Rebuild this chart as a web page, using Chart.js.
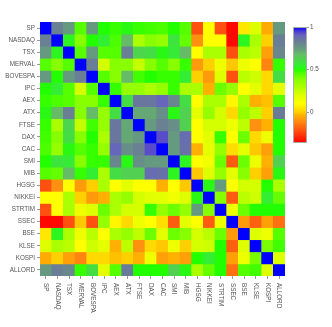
<!DOCTYPE html>
<html>
<head>
<meta charset="utf-8">
<script src="https://cdn.jsdelivr.net/npm/chart.js@4/dist/chart.umd.min.js"></script>
<style>
  html, body { margin: 0; padding: 0; background: #fff; }
  #wrap { width: 332px; height: 327px; }
</style>
</head>
<body>
<div id="wrap"><canvas id="corrChart"></canvas></div>
<script>
const indices = ["SP", "NASDAQ", "TSX", "MERVAL", "BOVESPA", "IPC", "AEX", "ATX", "FTSE", "DAX", "CAC",
  "SMI", "MIB", "HGSG", "NIKKEI", "STRTIM", "SSEC", "BSE", "KLSE", "KOSPI", "ALLORD"];

// correlation matrix, rows/cols in the order of `indices`
const corr = [
  [1, 0.82, 0.75, 0.45, 0.75, 0.5, 0.48, 0.52, 0.48, 0.47, 0.46, 0.5, 0.45, -0.22, 0.1, -0.22, -0.35, 0.05, 0.2, -0.05, 0.75],
  [0.82, 1, 0.53, 0.38, 0.5, 0.55, 0.46, 0.68, 0.3, 0.38, 0.35, 0.58, 0.43, -0.1, 0.1, 0.1, -0.35, 0.53, 0.3, 0.0, 0.83],
  [0.75, 0.53, 1, 0.45, 0.75, 0.45, 0.45, 0.83, 0.62, 0.6, 0.52, 0.56, 0.68, 0.1, 0.3, 0.3, -0.22, 0.3, 0.27, -0.07, 0.8],
  [0.45, 0.38, 0.45, 1, 0.83, 0.22, 0.38, 0.38, 0.25, 0.38, 0.45, 0.38, 0.48, -0.08, 0.0, 0.15, -0.01, 0.15, 0.1, -0.12, 0.48],
  [0.75, 0.5, 0.75, 0.83, 1, 0.45, 0.38, 0.68, 0.47, 0.5, 0.48, 0.48, 0.55, 0.0, -0.08, 0.2, -0.22, 0.27, 0.23, 0.02, 0.6],
  [0.5, 0.55, 0.45, 0.22, 0.45, 1, 0.48, 0.35, 0.35, 0.3, 0.35, 0.48, 0.3, 0.3, -0.04, 0.42, 0.35, 0.1, 0.18, 0.02, 0.18],
  [0.48, 0.46, 0.45, 0.38, 0.38, 0.48, 1, 0.6, 0.85, 0.85, 0.9, 0.8, 0.6, 0.1, 0.3, 0.3, 0.08, 0.3, -0.04, -0.02, 0.45],
  [0.52, 0.68, 0.83, 0.38, 0.68, 0.35, 0.6, 1, 0.72, 0.72, 0.78, 0.52, 0.63, 0.18, 0.35, 0.22, 0.02, 0.35, 0.26, 0.0, 0.84],
  [0.48, 0.3, 0.62, 0.25, 0.47, 0.35, 0.85, 0.72, 1, 0.75, 0.82, 0.78, 0.63, 0.1, 0.22, 0.22, 0.15, 0.26, -0.1, -0.04, 0.5],
  [0.47, 0.38, 0.6, 0.38, 0.5, 0.3, 0.85, 0.72, 0.75, 1, 0.93, 0.75, 0.88, 0.1, 0.18, 0.48, 0.1, 0.42, 0.02, 0.15, 0.5],
  [0.46, 0.35, 0.52, 0.45, 0.48, 0.35, 0.9, 0.78, 0.82, 0.93, 1, 0.75, 0.87, -0.04, 0.18, 0.35, 0.03, 0.18, -0.01, -0.07, 0.5],
  [0.5, 0.58, 0.56, 0.38, 0.48, 0.48, 0.8, 0.52, 0.78, 0.75, 0.75, 1, 0.53, 0.1, 0.14, 0.42, -0.2, 0.42, 0.15, -0.04, 0.63],
  [0.45, 0.43, 0.68, 0.48, 0.55, 0.3, 0.6, 0.63, 0.63, 0.88, 0.87, 0.53, 1, -0.01, 0.2, 0.35, 0.18, 0.38, 0.0, -0.07, 0.52],
  [-0.22, -0.1, 0.1, -0.08, 0.0, 0.3, 0.1, 0.18, 0.1, 0.1, -0.04, 0.1, -0.01, 1, 0.52, 0.75, 0.1, 0.22, 0.22, 0.5, 0.3],
  [0.1, 0.1, 0.3, 0.0, -0.08, -0.04, 0.3, 0.35, 0.22, 0.18, 0.18, 0.14, 0.2, 0.52, 1, 0.38, -0.2, 0.27, 0.23, 0.55, 0.43],
  [-0.22, 0.1, 0.3, 0.15, 0.2, 0.42, 0.3, 0.22, 0.22, 0.48, 0.35, 0.42, 0.35, 0.75, 0.38, 1, 0.15, 0.42, 0.5, 0.5, 0.5],
  [-0.35, -0.35, -0.22, -0.01, -0.22, 0.35, 0.08, 0.02, 0.15, 0.1, 0.03, -0.2, 0.18, 0.1, -0.2, 0.15, 1, -0.08, -0.19, -0.07, -0.16],
  [0.05, 0.53, 0.3, 0.15, 0.27, 0.1, 0.3, 0.35, 0.26, 0.42, 0.18, 0.42, 0.38, 0.22, 0.27, 0.42, -0.08, 1, 0.2, 0.15, 0.45],
  [0.2, 0.3, 0.27, 0.1, 0.23, 0.18, -0.04, 0.26, -0.1, 0.02, -0.01, 0.15, 0.0, 0.22, 0.23, 0.5, -0.19, 0.2, 1, 0.4, 0.47],
  [-0.05, 0.0, -0.07, -0.12, 0.02, 0.02, -0.02, 0.0, -0.04, 0.15, -0.07, -0.04, -0.07, 0.5, 0.55, 0.5, -0.07, 0.15, 0.4, 1, 0.2],
  [0.75, 0.83, 0.8, 0.48, 0.6, 0.18, 0.45, 0.84, 0.5, 0.5, 0.5, 0.63, 0.52, 0.3, 0.43, 0.5, -0.16, 0.45, 0.47, 0.2, 1]
];

// colour scale range and colorbar tick labels
const scaleMin = -0.365, scaleMax = 1;
const barTicks = [1, 0.5, 0];

// palette: red -> yellow -> green -> grey -> blue
const stopValues = [-0.365, -0.22, -0.1, -0.04, 0, 0.1, 0.2, 0.3, 0.38, 0.45, 0.5, 0.55, 0.6, 0.68, 0.75, 0.84, 0.9, 0.94, 1];
const stopColors = ['#ff0000', '#ff5010', '#ff9010', '#ffb000', '#ffd000', '#ffff00', '#ddff00', '#aaff00', '#88ff00',
  '#55ff00', '#22ff00', '#33ee33', '#44dd44', '#66bb66', '#669a80', '#6a7a99', '#6666bb', '#5544cc', '#0000ff'];

const fontFam = "'Liberation Sans', Arial, sans-serif";
const textCol = '#555';
const tickCol = '#999';

function hexRgb(h) {
  return [1, 3, 5].map(k => parseInt(h.slice(k, k + 2), 16));
}

function colorFor(v) {
  if (v <= stopValues[0]) return stopColors[0];
  for (let k = 1; k < stopValues.length; k++) {
    if (v <= stopValues[k]) {
      const t = (v - stopValues[k - 1]) / (stopValues[k] - stopValues[k - 1]);
      const a = hexRgb(stopColors[k - 1]), b = hexRgb(stopColors[k]);
      const c = a.map((x, n) => Math.round(x + (b[n] - x) * t));
      return `rgb(${c[0]},${c[1]},${c[2]})`;
    }
  }
  return stopColors[stopColors.length - 1];
}

// x labels read top to bottom, so draw them ourselves
const xLabels = {
  id: 'xLabels',
  afterDraw(chart) {
    const { ctx, chartArea } = chart;
    const x = chart.scales.x;
    ctx.save();
    ctx.fillStyle = textCol;
    ctx.font = `6.3px ${fontFam}`;
    ctx.textAlign = 'left';
    ctx.textBaseline = 'middle';
    indices.forEach((name, i) => {
      ctx.save();
      ctx.translate(x.getPixelForTick(i), chartArea.bottom + 7);
      ctx.rotate(Math.PI / 2);
      ctx.fillText(name, 0, 0);
      ctx.restore();
    });
    ctx.restore();
  }
};

const colorBar = {
  id: 'colorBar',
  afterDraw(chart) {
    const ctx = chart.ctx;
    const left = 293, top = 27, w = 14, h = 116;
    const span = scaleMax - scaleMin;
    ctx.save();
    const grad = ctx.createLinearGradient(0, top + h, 0, top);
    stopValues.forEach((v, k) => grad.addColorStop((v - scaleMin) / span, stopColors[k]));
    ctx.fillStyle = grad;
    ctx.fillRect(left, top, w, h);
    ctx.strokeStyle = '#aaa';
    ctx.lineWidth = 1;
    ctx.strokeRect(left + 0.5, top + 0.5, w - 1, h - 1);
    ctx.fillStyle = textCol;
    ctx.font = `6.3px ${fontFam}`;
    ctx.textAlign = 'left';
    ctx.textBaseline = 'middle';
    barTicks.forEach(t => {
      const y = Math.round(top + (scaleMax - t) / span * h) + 0.5;
      ctx.strokeStyle = tickCol;
      ctx.beginPath();
      ctx.moveTo(left + w, y);
      ctx.lineTo(left + w + 2, y);
      ctx.stroke();
      ctx.fillText(String(t), left + w + 3, y);
    });
    ctx.restore();
  }
};

new Chart(document.getElementById('corrChart'), {
  type: 'bar',
  data: {
    labels: indices,
    datasets: corr.map((row, i) => ({
      label: indices[i],
      data: row.map(() => 1),
      backgroundColor: row.map(colorFor),
      borderWidth: 0,
      categoryPercentage: 1,
      barPercentage: 1,
    }))
  },
  options: {
    responsive: true, maintainAspectRatio: false, animation: false,
    layout: { padding: { top: 22, right: 47, left: 0, bottom: 0 } },
    plugins: { legend: { display: false }, tooltip: { enabled: false } },
    scales: {
      x: {
        stacked: true, offset: true,
        grid: { offset: false, drawOnChartArea: false, tickLength: 3, color: tickCol },
        border: { display: false },
        ticks: { display: false },
        afterFit: s => { s.height = 51; }
      },
      y: {
        stacked: true, min: 0, max: 21, reverse: true,
        grid: { drawOnChartArea: false, tickLength: 3, color: tickCol },
        border: { display: false },
        afterBuildTicks: s => { s.ticks = indices.map((_, i) => ({ value: i + 0.5 })); },
        ticks: {
          autoSkip: false, padding: 2, color: textCol,
          font: { size: 6.3, family: fontFam },
          callback: v => indices[Math.floor(v)]
        },
        afterFit: s => { s.width = 40; }
      }
    }
  },
  plugins: [xLabels, colorBar]
});
</script>
</body>
</html>
